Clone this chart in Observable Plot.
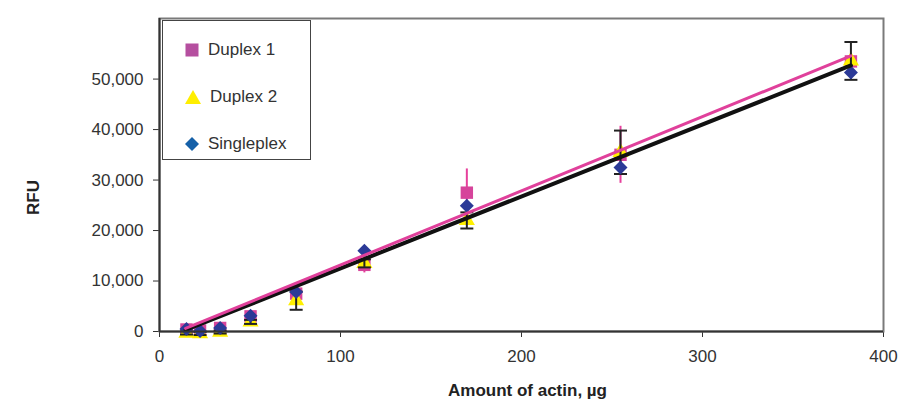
<!DOCTYPE html>
<html>
<head>
<meta charset="utf-8">
<script src="https://cdn.jsdelivr.net/npm/d3@7"></script>
<script src="https://cdn.jsdelivr.net/npm/@observablehq/plot@0.6"></script>
<style>
  body { margin: 0; background: white; }
  #wrap { position: relative; width: 900px; height: 405px; font-family: "Liberation Sans", Arial, sans-serif; }
  #legend { position: absolute; left: 162px; top: 20px; width: 149px; height: 140px; border: 1px solid #444; background: white; box-sizing: border-box; }
  .row { position: absolute; left: 0; height: 24px; display: flex; align-items: center; font-size: 17px; color: #333; }
  .row svg { margin-left: 22px; margin-right: 9px; }
</style>
</head>
<body>
<div id="wrap"></div>
<script>
// Data
const actin = [14.9, 22.4, 33.5, 50.3, 75.5, 113.2, 169.8, 254.7, 382];
const duplex1 = [400, 200, 700, 3000, 7500, 13200, 27500, 35000, 53500];
const duplex1Err = [300, 200, 300, 400, 600, 1600, 4700, 5650, 1000];
const duplex2 = [-300, -400, -100, 1900, 6100, 13500, 22000, 35500, 53600];
const duplex2Err = [300, 300, 300, 400, 1800, 800, 1600, 4300, 3750];
const singleplex = [500, 100, 700, 3100, 7800, 16000, 24900, 32500, 51300];
const fitX = [14.4, 382];
const duplex1Fit = [300, 54300];
const blackFit = [300, 52700];
const xTicks = [0, 100, 200, 300, 400];
const yTicks = [0, 10000, 20000, 30000, 40000, 50000];
const seriesNames = ["Duplex 1", "Duplex 2", "Singleplex"];

const d1 = actin.map((x, i) => ({x, y: duplex1[i], err: duplex1Err[i]}));
const d2 = actin.map((x, i) => ({x, y: duplex2[i], err: duplex2Err[i]}));
const sp = actin.map((x, i) => ({x, y: singleplex[i]}));
const d2caps = d2.flatMap(d => [{x: d.x, y: d.y - d.err}, {x: d.x, y: d.y + d.err}]);
const fit1 = fitX.map((x, i) => ({x, y: duplex1Fit[i]}));
const fit2 = fitX.map((x, i) => ({x, y: blackFit[i]}));

const capSymbol = {
  draw(context, size) {
    const w = Math.sqrt(size / Math.PI);
    context.moveTo(-w, 0);
    context.lineTo(w, 0);
  }
};

const chart = Plot.plot({
  width: 900,
  height: 405,
  marginLeft: 159,
  marginRight: 17,
  marginTop: 18,
  marginBottom: 74,
  style: {fontFamily: "Liberation Sans, Arial, sans-serif", fontSize: "17px", color: "#333", background: "white"},
  x: {domain: [0, 400], ticks: xTicks, tickSize: 6, tickPadding: 12, label: null},
  y: {domain: [0, 62000], ticks: yTicks, tickSize: 6, tickPadding: 10, tickFormat: d3.format(","), label: null},
  marks: [
    Plot.frame({stroke: "#7a7a7a", strokeWidth: 2}),
    Plot.ruleX(d1, {x: "x", y1: d => d.y - d.err, y2: d => d.y + d.err, stroke: "#e6409c", strokeWidth: 2}),
    Plot.dot(d1, {x: "x", y: "y", symbol: "square", r: 7, fill: "#d6449b", stroke: "none"}),
    Plot.dot(d2, {x: "x", y: "y", symbol: "triangle", r: 6, fill: "#fff000", stroke: "none"}),
    Plot.ruleX(d2, {x: "x", y1: d => d.y - d.err, y2: d => d.y + d.err, stroke: "#222", strokeWidth: 2}),
    Plot.dot(d2caps, {x: "x", y: "y", symbol: capSymbol, r: 6.5, stroke: "#222", strokeWidth: 2, fill: "none"}),
    Plot.dot(sp, {x: "x", y: "y", symbol: "diamond2", r: 6.3, fill: "#2b3a97", stroke: "none"}),
    Plot.line(fit2, {x: "x", y: "y", stroke: "#111", strokeWidth: 4}),
    Plot.line(fit1, {x: "x", y: "y", stroke: "#e0409b", strokeWidth: 3, dy: -1.5}),
    Plot.ruleX([0], {stroke: "#333", strokeWidth: 2}),
    Plot.ruleY([0], {stroke: "#333", strokeWidth: 2}),
    Plot.text(["Amount of actin, µg"], {frameAnchor: "bottom", dy: 64, dx: 6, fontWeight: "bold", fontSize: 17, fill: "#222"}),
    Plot.text(["RFU"], {frameAnchor: "left", dx: -126, dy: 40, rotate: -90, fontWeight: "bold", fontSize: 17, fill: "#222"})
  ]
});

const wrap = document.getElementById("wrap");
wrap.appendChild(chart);

// Legend
const legend = document.createElement("div");
legend.id = "legend";
const legendSymbols = [
  '<svg width="14" height="14"><rect x="0.5" y="0.5" width="13" height="13" fill="#b54f9f"/></svg>',
  '<svg width="16" height="14"><polygon points="8,0 16,14 0,14" fill="#ffee00"/></svg>',
  '<svg width="14" height="14"><polygon points="7,0 14,7 7,14 0,7" fill="#1560a8"/></svg>'
];
const rowTops = [17, 64, 111];
seriesNames.forEach((name, i) => {
  const row = document.createElement("div");
  row.className = "row";
  row.style.top = rowTops[i] + "px";
  row.innerHTML = legendSymbols[i] + "<span>" + name + "</span>";
  legend.appendChild(row);
});
wrap.appendChild(legend);
</script>
</body>
</html>
